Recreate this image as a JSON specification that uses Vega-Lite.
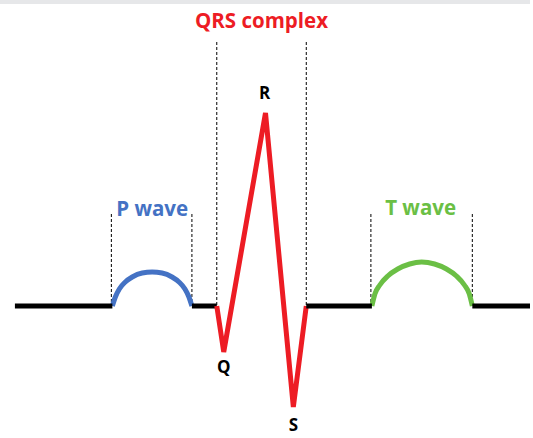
{
  "$schema": "https://vega.github.io/schema/vega-lite/v6.json",
  "width": 533,
  "height": 438,
  "autosize": {"type": "fit", "contains": "padding"},
  "padding": 0,
  "background": "#ffffff",
  "config": {"view": {"stroke": null}},
  "datasets": {
    "trace": [
      {"seg": "b1", "wave": "baseline", "t": 15, "amp": 0},
      {"seg": "b1", "wave": "baseline", "t": 113, "amp": 0},
      {"seg": "b2", "wave": "baseline", "t": 193, "amp": 0},
      {"seg": "b2", "wave": "baseline", "t": 218, "amp": 0},
      {"seg": "qrs", "wave": "QRS", "t": 218, "amp": 0},
      {"seg": "qrs", "wave": "QRS", "t": 225, "amp": -46},
      {"seg": "qrs", "wave": "QRS", "t": 267, "amp": 193},
      {"seg": "qrs", "wave": "QRS", "t": 295, "amp": -101},
      {"seg": "qrs", "wave": "QRS", "t": 308, "amp": 0},
      {"seg": "b3", "wave": "baseline", "t": 308, "amp": 0},
      {"seg": "b3", "wave": "baseline", "t": 374, "amp": 0},
      {"seg": "b4", "wave": "baseline", "t": 475, "amp": 0},
      {"seg": "b4", "wave": "baseline", "t": 533, "amp": 0}
    ],
    "waves": [
      {"seg": "p", "wave": "P", "t": 113, "amp": 0},
      {"seg": "p", "wave": "P", "t": 116, "amp": 9},
      {"seg": "p", "wave": "P", "t": 120, "amp": 17},
      {"seg": "p", "wave": "P", "t": 126, "amp": 24},
      {"seg": "p", "wave": "P", "t": 133, "amp": 29},
      {"seg": "p", "wave": "P", "t": 143, "amp": 33},
      {"seg": "p", "wave": "P", "t": 153, "amp": 34},
      {"seg": "p", "wave": "P", "t": 163, "amp": 33},
      {"seg": "p", "wave": "P", "t": 173, "amp": 29},
      {"seg": "p", "wave": "P", "t": 180, "amp": 24},
      {"seg": "p", "wave": "P", "t": 186, "amp": 17},
      {"seg": "p", "wave": "P", "t": 190, "amp": 9},
      {"seg": "p", "wave": "P", "t": 193, "amp": 0},
      {"seg": "tw", "wave": "T", "t": 374, "amp": 0},
      {"seg": "tw", "wave": "T", "t": 377, "amp": 12},
      {"seg": "tw", "wave": "T", "t": 382, "amp": 21},
      {"seg": "tw", "wave": "T", "t": 390, "amp": 30},
      {"seg": "tw", "wave": "T", "t": 400, "amp": 37},
      {"seg": "tw", "wave": "T", "t": 412, "amp": 42},
      {"seg": "tw", "wave": "T", "t": 424, "amp": 44},
      {"seg": "tw", "wave": "T", "t": 437, "amp": 42},
      {"seg": "tw", "wave": "T", "t": 449, "amp": 37},
      {"seg": "tw", "wave": "T", "t": 459, "amp": 30},
      {"seg": "tw", "wave": "T", "t": 467, "amp": 21},
      {"seg": "tw", "wave": "T", "t": 472, "amp": 12},
      {"seg": "tw", "wave": "T", "t": 475, "amp": 0}
    ],
    "bounds": [
      {"t": 112, "top": 92, "bottom": 0},
      {"t": 193, "top": 92, "bottom": 0},
      {"t": 218, "top": 264, "bottom": 0},
      {"t": 308, "top": 264, "bottom": 0},
      {"t": 373, "top": 92, "bottom": 0},
      {"t": 475, "top": 92, "bottom": 0}
    ],
    "titles": [
      {"text": "QRS complex", "wave": "QRS", "t": 263, "amp": 278},
      {"text": "P wave", "wave": "P", "t": 153, "amp": 90},
      {"text": "T wave", "wave": "T", "t": 423, "amp": 91}
    ],
    "points": [
      {"text": "R", "t": 266, "amp": 207},
      {"text": "Q", "t": 225, "amp": -67},
      {"text": "S", "t": 295, "amp": -125}
    ],
    "band": [{"t0": 0, "t1": 533, "a0": 302, "a1": 306}]
  },
  "layer": [
    {
      "data": {"name": "band"},
      "mark": {"type": "rect", "color": "#e6e7e9"},
      "encoding": {
        "x": {"field": "t0", "type": "quantitative", "scale": {"domain": [0, 533], "nice": false, "zero": false}, "axis": null},
        "x2": {"field": "t1"},
        "y": {"field": "a0", "type": "quantitative", "scale": {"domain": [-132, 306], "nice": false, "zero": false}, "axis": null},
        "y2": {"field": "a1"}
      }
    },
    {
      "data": {"name": "bounds"},
      "mark": {"type": "rule", "color": "#000000", "strokeWidth": 1, "strokeDash": [3, 2]},
      "encoding": {
        "x": {"field": "t", "type": "quantitative", "scale": {"domain": [0, 533], "nice": false, "zero": false}, "axis": null},
        "y": {"field": "top", "type": "quantitative", "scale": {"domain": [-132, 306], "nice": false, "zero": false}, "axis": null},
        "y2": {"field": "bottom"}
      }
    },
    {
      "data": {"name": "waves"},
      "mark": {"type": "line", "strokeWidth": 5, "strokeCap": "butt", "interpolate": "monotone"},
      "encoding": {
        "x": {"field": "t", "type": "quantitative", "scale": {"domain": [0, 533], "nice": false, "zero": false}, "axis": null},
        "y": {"field": "amp", "type": "quantitative", "scale": {"domain": [-132, 306], "nice": false, "zero": false}, "axis": null},
        "color": {"field": "wave", "type": "nominal", "scale": {"domain": ["baseline", "P", "QRS", "T"], "range": ["#000000", "#4472C4", "#ED1C24", "#6BBF45"]}, "legend": null},
        "detail": {"field": "seg"},
        "order": {"field": "t", "type": "quantitative"}
      }
    },
    {
      "data": {"name": "trace"},
      "mark": {"type": "line", "strokeWidth": 5, "strokeJoin": "bevel", "strokeCap": "butt", "interpolate": "linear"},
      "encoding": {
        "x": {"field": "t", "type": "quantitative", "scale": {"domain": [0, 533], "nice": false, "zero": false}, "axis": null},
        "y": {"field": "amp", "type": "quantitative", "scale": {"domain": [-132, 306], "nice": false, "zero": false}, "axis": null},
        "color": {"field": "wave", "type": "nominal", "scale": {"domain": ["baseline", "P", "QRS", "T"], "range": ["#000000", "#4472C4", "#ED1C24", "#6BBF45"]}, "legend": null},
        "detail": {"field": "seg"},
        "order": {"field": "t", "type": "quantitative"}
      }
    },
    {
      "data": {"name": "titles"},
      "mark": {"type": "text", "font": "Open Sans", "fontWeight": "bold", "fontSize": 20.5, "baseline": "alphabetic", "align": "center"},
      "encoding": {
        "x": {"field": "t", "type": "quantitative", "scale": {"domain": [0, 533], "nice": false, "zero": false}, "axis": null},
        "y": {"field": "amp", "type": "quantitative", "scale": {"domain": [-132, 306], "nice": false, "zero": false}, "axis": null},
        "text": {"field": "text"},
        "color": {"field": "wave", "type": "nominal", "scale": {"domain": ["baseline", "P", "QRS", "T"], "range": ["#000000", "#4472C4", "#ED1C24", "#6BBF45"]}, "legend": null}
      }
    },
    {
      "data": {"name": "points"},
      "mark": {"type": "text", "font": "Open Sans", "fontWeight": "bold", "fontSize": 17, "baseline": "alphabetic", "align": "center", "color": "#000000"},
      "encoding": {
        "x": {"field": "t", "type": "quantitative", "scale": {"domain": [0, 533], "nice": false, "zero": false}, "axis": null},
        "y": {"field": "amp", "type": "quantitative", "scale": {"domain": [-132, 306], "nice": false, "zero": false}, "axis": null},
        "text": {"field": "text"}
      }
    }
  ]
}
